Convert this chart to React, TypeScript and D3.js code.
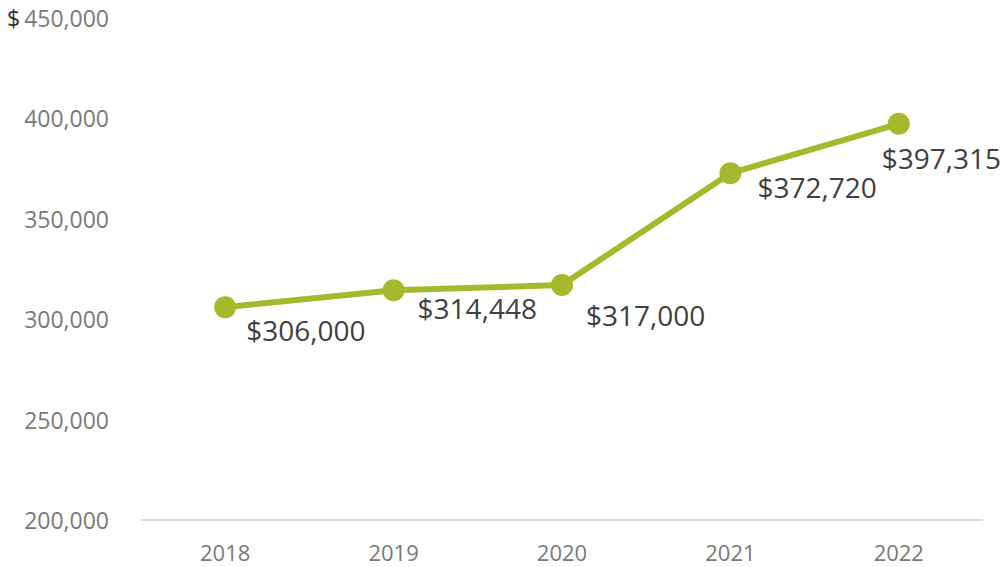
import React, { useEffect, useRef } from 'react';
import * as d3 from 'd3';

const years = ['2018', '2019', '2020', '2021', '2022'];
const medianPrice = [306000, 314448, 317000, 372720, 397315];
const yTicks = [200000, 250000, 300000, 350000, 400000, 450000];

// per-point label nudges (dx, dy from point centre), as placed in the original
const labelNudge: [number, number][] = [[21, 23], [24, 18], [24, 30], [27, 14], [-17, 34]];

const LINE = '#a6b82b';

export default function App() {
  const svgRef = useRef<SVGSVGElement>(null);

  useEffect(() => {
    if (!svgRef.current) return;
    const width = 1007;
    const height = 567;
    const left = 141;
    const right = 983;

    d3.select(svgRef.current).selectAll('*').remove();
    const svg = d3.select(svgRef.current)
      .attr('width', width)
      .attr('height', height)
      .style('font-family', '"Open Sans", sans-serif');

    const x = d3.scaleBand().domain(years).range([left, right]);
    const y = d3.scaleLinear().domain([200000, 450000]).range([520, 18]);
    const fmt = d3.format(',');

    // y tick labels
    svg.append('g')
      .selectAll('text')
      .data(yTicks)
      .enter()
      .append('text')
      .attr('x', 109)
      .attr('y', d => y(d))
      .attr('text-anchor', 'end')
      .attr('dominant-baseline', 'central')
      .attr('font-size', 23)
      .attr('fill', '#7a7a7a')
      .text(d => fmt(d));

    svg.append('text')
      .attr('x', 7)
      .attr('y', y(450000))
      .attr('dominant-baseline', 'central')
      .attr('font-size', 23)
      .attr('fill', '#333')
      .text('$');

    // baseline
    svg.append('line')
      .attr('x1', left)
      .attr('x2', right)
      .attr('y1', y(200000))
      .attr('y2', y(200000))
      .attr('stroke', '#d9d9d9')
      .attr('stroke-width', 2);

    // x labels
    svg.append('g')
      .selectAll('text')
      .data(years)
      .enter()
      .append('text')
      .attr('x', d => (x(d) as number) + x.bandwidth() / 2)
      .attr('y', 561)
      .attr('text-anchor', 'middle')
      .attr('font-size', 22)
      .attr('fill', '#7a7a7a')
      .text(d => d);

    const cx = (i: number) => (x(years[i]) as number) + x.bandwidth() / 2;

    const line = d3.line<number>()
      .x((_, i) => cx(i))
      .y(d => y(d));

    svg.append('path')
      .datum(medianPrice)
      .attr('d', line)
      .attr('fill', 'none')
      .attr('stroke', LINE)
      .attr('stroke-width', 6)
      .attr('stroke-linejoin', 'round');

    svg.append('g')
      .selectAll('circle')
      .data(medianPrice)
      .enter()
      .append('circle')
      .attr('cx', (_, i) => cx(i))
      .attr('cy', d => y(d))
      .attr('r', 11)
      .attr('fill', LINE);

    svg.append('g')
      .selectAll('text')
      .data(medianPrice)
      .enter()
      .append('text')
      .attr('x', (_, i) => cx(i) + labelNudge[i][0])
      .attr('y', (d, i) => y(d) + labelNudge[i][1])
      .attr('dominant-baseline', 'central')
      .attr('font-size', 28)
      .attr('fill', '#404040')
      .text(d => '$' + fmt(d));
  }, []);

  return (
    <svg ref={svgRef} style={{ position: 'absolute', left: 0, top: 0 }}></svg>
  );
}
